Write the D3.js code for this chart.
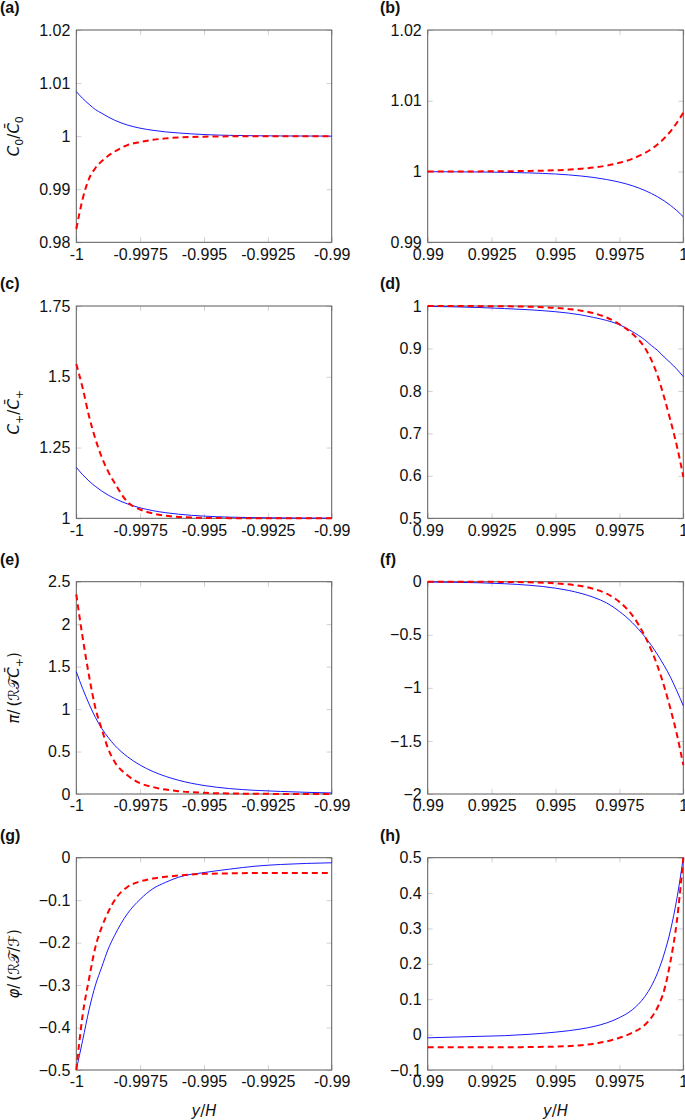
<!DOCTYPE html>
<html>
<head>
<meta charset="utf-8">
<script src="https://cdn.jsdelivr.net/npm/d3@7"></script>
<style>
  html, body { margin: 0; padding: 0; background: #fff; }
  svg { display: block; }
</style>
</head>
<body>
<svg id="chart" width="685" height="1120"></svg>
<script>
// ---------------- data ----------------
const xLeft  = [-1, -0.99975, -0.9995, -0.99925, -0.999, -0.99875, -0.9985, -0.998, -0.9975, -0.997, -0.9965, -0.996, -0.995, -0.994, -0.993, -0.992, -0.99];
const xRight = [0.99, 0.992, 0.993, 0.994, 0.995, 0.996, 0.9965, 0.997, 0.9975, 0.998, 0.9985, 0.99875, 0.999, 0.99925, 0.9995, 0.99975, 1];

const xTicksLeft = [-1, -0.9975, -0.995, -0.9925, -0.99];
const xTickLabelsLeft = ["-1", "-0.9975", "-0.995", "-0.9925", "-0.99"];
const xTicksRight = [0.99, 0.9925, 0.995, 0.9975, 1];
const xTickLabelsRight = ["0.99", "0.9925", "0.995", "0.9975", "1"];

// (a) C0 / C0bar, left wall
const blueA = [1.0084, 1.0071, 1.0060, 1.0050, 1.0043, 1.0036, 1.0030, 1.0021, 1.0015, 1.0011, 1.0008, 1.0006, 1.0003, 1.00015, 1.00007, 1.00004, 1.00001];
const redA  = [0.9825, 0.9882, 0.9920, 0.9940, 0.9953, 0.9963, 0.9971, 0.9983, 0.9989, 0.9993, 0.99958, 0.99975, 0.9999, 0.99996, 0.99998, 1.0, 1.0];
const yTicksA = [0.98, 0.99, 1, 1.01, 1.02];
const yTickLabelsA = ["0.98", "0.99", "1", "1.01", "1.02"];

// (b) C0 / C0bar, right wall
const blueB = [0.99998, 0.99994, 0.99989, 0.9998, 0.99965, 0.99937, 0.99916, 0.99887, 0.9985, 0.998, 0.99732, 0.9969, 0.99642, 0.99586, 0.99521, 0.99447, 0.9936];
const redB  = [1.0, 1.00002, 1.00004, 1.00009, 1.00018, 1.00039, 1.00057, 1.00084, 1.00123, 1.00179, 1.00263, 1.00318, 1.00386, 1.00468, 1.00568, 1.0069, 1.0083];
const yTicksB = [0.99, 1, 1.01, 1.02];
const yTickLabelsB = ["0.99", "1", "1.01", "1.02"];

// (c) C+ / C+bar, left wall
const blueC = [1.18, 1.154, 1.1315, 1.1125, 1.096, 1.082, 1.070, 1.051, 1.037, 1.027, 1.0198, 1.0145, 1.0077, 1.0041, 1.0022, 1.0012, 1.0003];
const redC  = [1.545, 1.46, 1.36, 1.28, 1.215, 1.165, 1.125, 1.058, 1.031, 1.017, 1.009, 1.005, 1.0015, 1.0006, 1.0002, 1.0001, 1.0];
const yTicksC = [1, 1.25, 1.5, 1.75];
const yTickLabelsC = ["1", "1.25", "1.5", "1.75"];

// (d) C+ / C+bar, right wall
const blueD = [0.999, 0.9965, 0.994, 0.991, 0.9865, 0.979, 0.973, 0.966, 0.956, 0.94, 0.92, 0.907, 0.895, 0.88, 0.866, 0.851, 0.8335];
const redD  = [1.0, 0.9997, 0.9993, 0.9982, 0.9955, 0.989, 0.983, 0.973, 0.957, 0.935, 0.901, 0.873, 0.835, 0.785, 0.73, 0.67, 0.598];
const yTicksD = [0.5, 0.6, 0.7, 0.8, 0.9, 1];
const yTickLabelsD = ["0.5", "0.6", "0.7", "0.8", "0.9", "1"];

// (e) pi / (R T C+bar), left wall
const blueE = [1.44, 1.24, 1.06, 0.90, 0.77, 0.665, 0.575, 0.44, 0.34, 0.265, 0.207, 0.162, 0.10, 0.064, 0.043, 0.03, 0.012];
const redE  = [2.35, 1.84, 1.39, 1.01, 0.76, 0.53, 0.38, 0.22, 0.126, 0.082, 0.052, 0.033, 0.014, 0.006, 0.003, 0.001, 0];
const yTicksE = [0, 0.5, 1, 1.5, 2, 2.5];
const yTickLabelsE = ["0", "0.5", "1", "1.5", "2", "2.5"];

// (f) pi / (R T C+bar), right wall
const blueF = [-0.003, -0.010, -0.019, -0.034, -0.061, -0.11, -0.148, -0.20, -0.28, -0.385, -0.52, -0.60, -0.69, -0.79, -0.90, -1.03, -1.168];
const redF  = [0, -0.001, -0.002, -0.006, -0.015, -0.041, -0.068, -0.113, -0.19, -0.315, -0.515, -0.645, -0.80, -0.985, -1.20, -1.44, -1.727];
const yTicksF = [-2, -1.5, -1, -0.5, 0];
const yTickLabelsF = ["\u22122", "\u22121.5", "\u22121", "\u22120.5", "0"];

// (g) phi / (R T / F), left wall
const blueG = [-0.5, -0.43, -0.358, -0.30, -0.257, -0.215, -0.183, -0.132, -0.098, -0.073, -0.058, -0.046, -0.035, -0.027, -0.020, -0.016, -0.012];
const redG  = [-0.5, -0.37, -0.285, -0.21, -0.163, -0.128, -0.10, -0.069, -0.056, -0.049, -0.045, -0.042, -0.038, -0.037, -0.036, -0.036, -0.036];
const yTicksG = [-0.5, -0.4, -0.3, -0.2, -0.1, 0];
const yTickLabelsG = ["\u22120.5", "\u22120.4", "\u22120.3", "\u22120.2", "\u22120.1", "0"];

// (h) phi / (R T / F), right wall
const blueH = [-0.009, -0.005, -0.003, 0.001, 0.007, 0.016, 0.023, 0.033, 0.048, 0.070, 0.108, 0.137, 0.176, 0.228, 0.295, 0.385, 0.5];
const redH  = [-0.036, -0.036, -0.036, -0.035, -0.034, -0.03, -0.026, -0.019, -0.009, 0.005, 0.028, 0.048, 0.078, 0.125, 0.208, 0.322, 0.5];
const yTicksH = [-0.1, 0, 0.1, 0.2, 0.3, 0.4, 0.5];
const yTickLabelsH = ["\u22120.1", "0", "0.1", "0.2", "0.3", "0.4", "0.5"];

const panelLetters = ["(a)", "(b)", "(c)", "(d)", "(e)", "(f)", "(g)", "(h)"];
const xAxisTitle = "y/H";

// ---------------- layout ----------------
const colX = [[76.3, 331.7], [427.7, 683.3]];
const rowTop = [30, 306, 581.7, 857.7];
const panelH = 212.3;
const FONT = "'Liberation Sans', Arial, Helvetica, sans-serif";

const panels = [
  {col: 0, row: 0, xs: xLeft,  blue: blueA, red: redA, yd: [0.98, 1.02], yt: yTicksA, yl: yTickLabelsA, lab: "c0"},
  {col: 1, row: 0, xs: xRight, blue: blueB, red: redB, yd: [0.99, 1.02], yt: yTicksB, yl: yTickLabelsB},
  {col: 0, row: 1, xs: xLeft,  blue: blueC, red: redC, yd: [1, 1.75], yt: yTicksC, yl: yTickLabelsC, lab: "cp"},
  {col: 1, row: 1, xs: xRight, blue: blueD, red: redD, yd: [0.5, 1], yt: yTicksD, yl: yTickLabelsD},
  {col: 0, row: 2, xs: xLeft,  blue: blueE, red: redE, yd: [0, 2.5], yt: yTicksE, yl: yTickLabelsE, lab: "pi"},
  {col: 1, row: 2, xs: xRight, blue: blueF, red: redF, yd: [-2, 0], yt: yTicksF, yl: yTickLabelsF},
  {col: 0, row: 3, xs: xLeft,  blue: blueG, red: redG, yd: [-0.5, 0], yt: yTicksG, yl: yTickLabelsG, lab: "phi"},
  {col: 1, row: 3, xs: xRight, blue: blueH, red: redH, yd: [-0.1, 0.5], yt: yTicksH, yl: yTickLabelsH}
];

const svg = d3.select("#chart");

const labelParts = {
  c0:  [{t: "C", it: 1}, {t: "0", sub: 1}, {t: "/"}, {t: "C\u0304", it: 1}, {t: "0", sub: 1}],
  cp:  [{t: "C", it: 1}, {t: "+", sub: 1}, {t: "/"}, {t: "C\u0304", it: 1}, {t: "+", sub: 1}],
  pi:  [{t: "\u03C0", it: 1}, {t: "/\u2009("}, {t: "\u211B", sc: 1}, {t: "\uD835\uDCAF", sc: 1}, {t: "C\u0304", it: 1}, {t: "+", sub: 1}, {t: ")"}],
  phi: [{t: "\u03C6", it: 1}, {t: "/\u2009("}, {t: "\u211B", sc: 1}, {t: "\uD835\uDCAF", sc: 1}, {t: "/"}, {t: "\u2131", sc: 1}, {t: ")"}]
};

panels.forEach((p, i) => {
  const [x0, x1] = colX[p.col];
  const y0 = rowTop[p.row];
  const y1 = y0 + panelH;
  const x = d3.scaleLinear().domain(p.col === 0 ? [-1, -0.99] : [0.99, 1]).range([x0, x1]);
  const y = d3.scaleLinear().domain(p.yd).range([y1, y0]);
  const xt = p.col === 0 ? xTicksLeft : xTicksRight;
  const xl = p.col === 0 ? xTickLabelsLeft : xTickLabelsRight;

  const g = svg.append("g");

  const styleTicks = sel => {
    sel.select(".domain").remove();
    sel.selectAll(".tick line").attr("stroke", "#c4c4c4").attr("stroke-width", 0.8);
    sel.selectAll(".tick text").attr("fill", "#111").style("font-family", FONT).style("font-size", "16px");
  };
  g.append("g").attr("transform", `translate(0,${y1})`)
    .call(d3.axisBottom(x).tickValues(xt).tickFormat((d, k) => xl[k]).tickSizeInner(-5).tickSizeOuter(0).tickPadding(6))
    .call(styleTicks);
  g.append("g").attr("transform", `translate(0,${y0})`)
    .call(d3.axisTop(x).tickValues(xt).tickFormat("").tickSizeInner(-5).tickSizeOuter(0))
    .call(styleTicks);
  g.append("g").attr("transform", `translate(${x0},0)`)
    .call(d3.axisLeft(y).tickValues(p.yt).tickFormat((d, k) => p.yl[k]).tickSizeInner(-5).tickSizeOuter(0).tickPadding(6))
    .call(styleTicks);
  g.append("g").attr("transform", `translate(${x1},0)`)
    .call(d3.axisRight(y).tickValues(p.yt).tickFormat("").tickSizeInner(-5).tickSizeOuter(0))
    .call(styleTicks);

  g.append("rect").attr("x", x0).attr("y", y0).attr("width", x1 - x0).attr("height", y1 - y0)
    .attr("fill", "none").attr("stroke", "#5a5a5a").attr("stroke-width", 1);

  const line = ys => d3.line().x((d, k) => x(p.xs[k])).y(d => y(d)).curve(d3.curveMonotoneX)(ys);

  g.append("path").attr("d", line(p.blue)).attr("fill", "none")
    .attr("stroke", "#0000ff").attr("stroke-width", 0.9);
  g.append("path").attr("d", line(p.red)).attr("fill", "none")
    .attr("stroke", "#ff0000").attr("stroke-width", 2).attr("stroke-dasharray", "6,4");

  svg.append("text").attr("x", p.col === 0 ? 0 : 380).attr("y", 13 + 276 * p.row)
    .style("font-family", FONT).style("font-size", "16px").style("font-weight", "bold")
    .attr("fill", "#111").text(panelLetters[i]);

  if (p.lab) {
    const cy = (y0 + y1) / 2;
    const t = svg.append("text")
      .attr("transform", `translate(19,${cy}) rotate(-90)`)
      .attr("text-anchor", "middle")
      .style("font-family", "'DejaVu Sans', 'Liberation Sans', sans-serif")
      .style("font-size", "15px").attr("fill", "#111");
    let shifted = false;
    labelParts[p.lab].forEach(part => {
      const s = t.append("tspan").text(part.t);
      if (part.it) s.style("font-style", "italic");
      if (part.sub) { s.style("font-size", "11px").attr("dy", 4); shifted = true; }
      else if (shifted) { s.attr("dy", -4); shifted = false; }
    });
  }
});

[0, 1].forEach(c => {
  const [x0, x1] = colX[c];
  const t = svg.append("text").attr("x", (x0 + x1) / 2).attr("y", 1116)
    .attr("text-anchor", "middle")
    .style("font-family", "'DejaVu Sans', 'Liberation Sans', sans-serif")
    .style("font-size", "15px").attr("fill", "#111");
  const parts = xAxisTitle.split("/");
  t.append("tspan").style("font-style", "italic").text(parts[0]);
  t.append("tspan").text("/");
  t.append("tspan").style("font-style", "italic").text(parts[1]);
});
</script>
</body>
</html>
